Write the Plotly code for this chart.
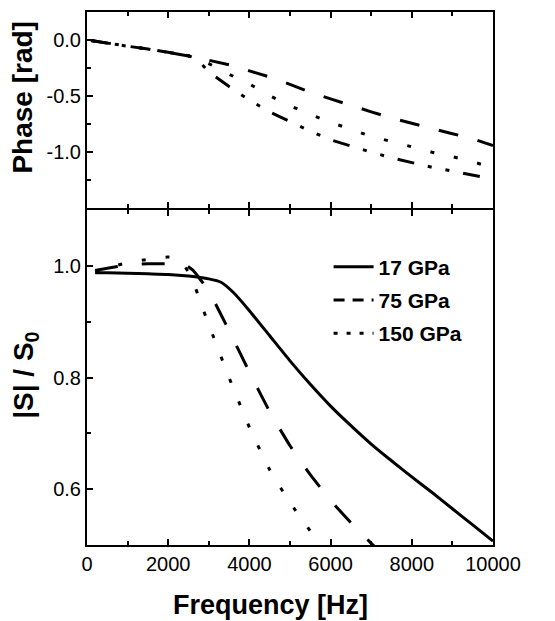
import plotly.graph_objects as go

# ---------------- data ----------------
# Lower panel: |S| / S0 vs frequency
freq_17 = [200, 500, 1000, 1500, 2000, 2500, 3000, 3300, 3600, 4000, 4500, 5000, 5500, 6000, 6500, 7000, 7500, 8000, 8500, 9000, 9500, 10000]
mag_17 = [0.988, 0.988, 0.987, 0.986, 0.985, 0.982, 0.977, 0.971, 0.953, 0.920, 0.875, 0.830, 0.788, 0.749, 0.714, 0.681, 0.651, 0.622, 0.594, 0.565, 0.536, 0.507]

freq_75 = [200, 500, 1000, 1500, 2000, 2400, 2600, 2800, 3000, 3500, 4000, 4500, 5000, 5500, 6000, 6500, 7000, 7100]
mag_75 = [0.992, 0.996, 1.002, 1.004, 1.004, 1.003, 0.993, 0.975, 0.955, 0.884, 0.810, 0.739, 0.678, 0.626, 0.580, 0.540, 0.503, 0.496]

freq_150 = [200, 500, 1000, 1500, 2000, 2200, 2400, 2600, 2800, 3000, 3500, 4000, 4500, 5000, 5500, 5800]
mag_150 = [0.990, 0.997, 1.006, 1.012, 1.016, 1.013, 1.000, 0.975, 0.934, 0.895, 0.800, 0.711, 0.635, 0.576, 0.525, 0.497]

# Upper panel: phase vs frequency
freq_phase = [100, 500, 1000, 1500, 2000, 2500, 2700, 3000, 3500, 4000, 4500, 5000, 5500, 6000, 6500, 7000, 7500, 8000, 8500, 9000, 9500, 10000]
phase_dash = [-0.005, -0.03, -0.055, -0.08, -0.11, -0.14, -0.155, -0.18, -0.22, -0.275, -0.33, -0.395, -0.465, -0.525, -0.585, -0.64, -0.695, -0.745, -0.79, -0.835, -0.88, -0.94]
freq_phase_dot = [100, 500, 1000, 1500, 2000, 2500, 2700, 3000, 3400, 4000, 4500, 5000, 5500, 6000, 6500, 7000, 7500, 8000, 8500, 9000, 9500, 10000]
phase_dot = [-0.005, -0.03, -0.055, -0.08, -0.11, -0.14, -0.16, -0.21, -0.288, -0.392, -0.497, -0.585, -0.663, -0.735, -0.795, -0.86, -0.905, -0.955, -1.0, -1.04, -1.085, -1.14]
phase_dashdot = [-0.005, -0.03, -0.055, -0.08, -0.11, -0.14, -0.165, -0.285, -0.415, -0.535, -0.642, -0.73, -0.812, -0.89, -0.948, -1.0, -1.05, -1.095, -1.135, -1.168, -1.203, -1.24]

legend_names = ["17 GPa", "75 GPa", "150 GPa"]

x_tickvals = [0, 2000, 4000, 6000, 8000, 10000]
x_ticktext = ["0", "2000", "4000", "6000", "8000", "10000"]
phase_tickvals = [0.0, -0.5, -1.0]
phase_ticktext = ["0.0", "-0.5", "-1.0"]
mag_tickvals = [0.6, 0.8, 1.0]
mag_ticktext = ["0.6", "0.8", "1.0"]

# ---------------- figure ----------------
LW = 3
BLACK = "black"
FONT = "Liberation Sans, Arial, sans-serif"

fig = go.Figure()

# upper panel
fig.add_trace(go.Scatter(x=freq_phase, y=phase_dash, mode="lines", showlegend=False,
                         line=dict(color=BLACK, width=LW, dash="20px,20px"), xaxis="x", yaxis="y"))
fig.add_trace(go.Scatter(x=freq_phase_dot, y=phase_dot, mode="lines", showlegend=False,
                         line=dict(color=BLACK, width=LW, dash="4px,20px"), xaxis="x", yaxis="y"))
fig.add_trace(go.Scatter(x=freq_phase, y=phase_dashdot, mode="lines", showlegend=False,
                         line=dict(color=BLACK, width=LW, dash="17px,14px,4px,14px,4px,14px"),
                         xaxis="x", yaxis="y"))

# lower panel (curves)
fig.add_trace(go.Scatter(x=freq_17, y=mag_17, mode="lines", showlegend=False,
                         line=dict(color=BLACK, width=LW, shape="spline", smoothing=0.5),
                         xaxis="x2", yaxis="y2"))
fig.add_trace(go.Scatter(x=freq_75, y=mag_75, mode="lines", showlegend=False,
                         line=dict(color=BLACK, width=LW, dash="23px,24px", shape="spline", smoothing=0.5),
                         xaxis="x2", yaxis="y2"))
fig.add_trace(go.Scatter(x=freq_150, y=mag_150, mode="lines", showlegend=False,
                         line=dict(color=BLACK, width=LW, dash="4px,20px", shape="spline", smoothing=0.5),
                         xaxis="x2", yaxis="y2"))

# legend keys (no data drawn; they only carry the legend styles)
legend_dashes = ["solid", "11px,8px", "4px,9px"]
for name, dsh, grp in zip(legend_names, legend_dashes, ["a", "b", "c"]):
    fig.add_trace(go.Scatter(x=[None], y=[None], mode="lines", name=name, legendgroup=grp,
                             line=dict(color=BLACK, width=LW, dash=dsh), xaxis="x2", yaxis="y2"))

tickfont = dict(family=FONT, size=20, color=BLACK)
common_axis = dict(showline=True, linecolor=BLACK, linewidth=2, ticks="inside", ticklen=6,
                   tickwidth=2, tickcolor=BLACK, showgrid=False, zeroline=False, tickfont=tickfont)
minor_x = dict(ticks="inside", ticklen=4, tickwidth=2, tickcolor=BLACK, dtick=1000, tick0=0)

PLOT_H = 535.0
split = 336 / PLOT_H            # top edge of lower panel
split_top = split + 2 / PLOT_H  # bottom edge of upper panel (so the two axis lines coincide)

fig.update_layout(
    width=555, height=621,
    margin=dict(l=87, r=62, t=10, b=76),
    paper_bgcolor="white", plot_bgcolor="white",
    xaxis=dict(domain=[0, 1], anchor="y", range=[0, 10000], matches="x2",
               tickvals=x_tickvals, showticklabels=False, mirror="ticks",
               minor=minor_x, **common_axis),
    yaxis=dict(domain=[split_top, 1], anchor="x", range=[-1.5, 0.25],
               tickvals=phase_tickvals, ticktext=phase_ticktext, mirror=True,
               minor=dict(ticks="inside", ticklen=4, tickwidth=2, tickcolor=BLACK, dtick=0.25, tick0=0),
               **common_axis),
    xaxis2=dict(domain=[0, 1], anchor="y2", range=[0, 10000],
                tickvals=x_tickvals, ticktext=x_ticktext, mirror="ticks",
                minor=minor_x, **common_axis),
    yaxis2=dict(domain=[0, split], anchor="x2", range=[0.5, 1.1],
                tickvals=mag_tickvals, ticktext=mag_ticktext, mirror=True,
                minor=dict(ticks="inside", ticklen=4, tickwidth=2, tickcolor=BLACK, dtick=0.1, tick0=0),
                **common_axis),
    legend=dict(x=0.595, y=0.56, xanchor="left", yanchor="top", bgcolor="rgba(0,0,0,0)",
                font=dict(family=FONT, size=21, color=BLACK, weight="bold"),
                tracegroupgap=3, itemwidth=40),
    annotations=[
        dict(text="<b>Phase [rad]</b>", x=-0.158, y=0.841, xref="paper", yref="paper",
             textangle=-90, showarrow=False, xanchor="center", yanchor="middle",
             font=dict(family=FONT, size=28, color=BLACK)),
        dict(text="<b>|S| / S<sub>0</sub></b>", x=-0.152, y=0.318, xref="paper", yref="paper",
             textangle=-90, showarrow=False, xanchor="center", yanchor="middle",
             font=dict(family=FONT, size=28, color=BLACK)),
        dict(text="<b>Frequency [Hz]</b>", x=0.451, y=-0.112, xref="paper", yref="paper",
             showarrow=False, xanchor="center", yanchor="middle",
             font=dict(family=FONT, size=27, color=BLACK)),
    ],
)

# remove the browser's default 8px page margin so the figure fills the window exactly
fig.write_html("out.html",
               config={"displayModeBar": False},
               post_script="document.body.style.margin='0';document.body.style.overflow='hidden';")
